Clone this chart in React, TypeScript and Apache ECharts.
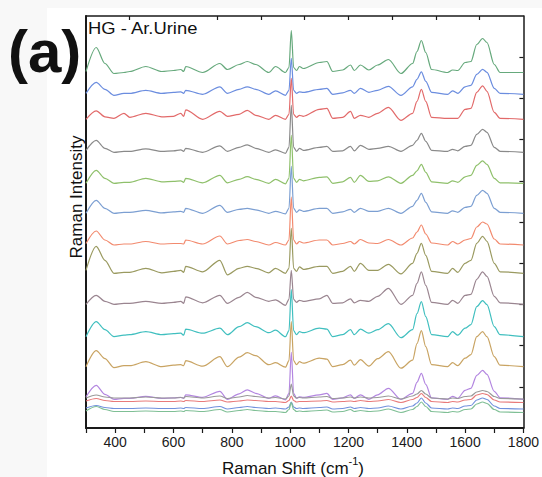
import React, { useEffect, useRef } from "react";
import * as echarts from "echarts";

// Raman shift positions (cm^-1) at which each spectrum was read
const shifts = [300, 335, 365, 396, 430, 450, 505, 560, 600, 625, 635, 642, 700, 759, 785, 825, 853, 882, 927, 950, 984, 996, 1004, 1012, 1022, 1032, 1045, 1100, 1126, 1146, 1180, 1207, 1220, 1241, 1270, 1300, 1337, 1380, 1420, 1435, 1450, 1465, 1485, 1540, 1557, 1575, 1600, 1620, 1640, 1660, 1675, 1700, 1720, 1800];

// vertical display offsets of the stacked spectra (a.u.)
const offsets = [355.5, 333.7, 308.7, 275.7, 244.7, 214.7, 183, 154.7, 123.7, 91.3, 61.3, 28.7, 29, 25.5, 19, 15.5];

const colors = ["#66a97c", "#6b8ddf", "#e26a6a", "#8a8a8a", "#8fc06b", "#7c9fd2", "#f28a6e", "#9a9a60", "#9a8590", "#40bfbf", "#c9a463", "#b386e0", "#999999", "#e87a7a", "#7090dd", "#7fbf95"];

// intensities above each offset (a.u.)
const s1 = [1, 25, 9, -1, 0, 1, 6, 1, 2, 3, 1, 6, 0, 9, 3, 8, 11, 8, 0, 6, 0, 5, 42, 5, 2, 6, 4, 10, 11, 1, 2.5, 7.5, 2, 7.5, 2.5, 7.5, 13, -1, 9, 21, 32, 20, 3, 0, 2.5, 2, 10, 11, 28, 34, 30, 8, 0, 0];
const s2 = [1, 12, 5, -1, 1, 1, 4, 1, 2, 2.5, 1, 4, 0, 7.5, 1, 5, 7.5, 5, 0, 3.5, -1, 4, 36, 4, 1, 2.5, 2, 5, 6, 0, 1.5, 4, 1, 6, 2, 4, 8, -1, 7.5, 15, 22.5, 13, 2, 0, 3.5, 1, 7.5, 9, 20, 25, 22, 6, 1, 0];
const s3 = [0, 8.5, 2.5, 1, 6, 2, 6, 2.5, 3, 6, 3, 9.5, 0, 8, 3, 5, 9, 4, 0, 4, 0, 5, 41, 5, 2, 4, 3, 10, 11, 1, 2, 8, 1, 4, 2, 6, 12, -1, 6, 18, 30, 18, 2, 1, 1, 1, 10, 11, 27, 33.5, 28, 7, 1, 0];
const s4 = [2, 12, 4, 0, 1, 1, 3.5, 1, 1.5, 2.5, 1, 4, 0, 6.5, 1, 5, 7.5, 4, 0, 2.5, -1, 5, 47, 5, 1, 4, 2, 5, 6, 1, 1.5, 6, 1.5, 7, 3, 4, 6, 1, 7, 12, 19, 11, 2, 1, 3, 1.5, 6, 7, 18, 23, 20, 5, 1, 0];
const s5 = [0, 13, 5, 0, 1, 1, 5, 1.5, 2, 2.5, 1, 5, 0.5, 8, 0.5, 4, 6.7, 4, 0, 4, -0.5, 5, 48, 5, 1, 4, 2.5, 6, 6.5, 0, 1.5, 6, 1, 8, 2, 2.5, 6.5, 0, 8, 12.5, 19, 11, 1.5, 0, 2.5, 1, 6.5, 8, 18, 22.5, 19, 5, 0.5, 0];
const s6 = [0, 13, 5, 0, 1, 1, 3, 0.5, 1.5, 2, 1, 5, 0, 8, 1, 4, 5, 3.5, 0, 2, -0.5, 5, 47, 5, 1, 3.5, 2, 5, 5, 0, 1.5, 4, 1, 5, 2, 2, 5, 0, 7, 13, 20, 11, 1.5, 0, 2.5, 1, 6, 7, 18, 23, 20, 5, 1, 0];
const s7 = [1.5, 14, 5, 0, 1, 1, 3.5, 1, 1.5, 1.5, 1, 5, 1, 9, 1, 4.5, 5.5, 3.5, 0, 2.5, 0, 5, 48, 5, 1, 3.5, 2, 5, 5, 0, 1.5, 3.5, 1, 5.5, 2, 1.5, 5.5, 0, 7, 13, 20, 11, 2, 0, 3.5, 1, 5, 6.5, 18, 23, 21, 6, 1, 0];
const s8 = [3, 27, 13, 0, 1, 1, 5, 0.5, 2, 3, 1, 7, 1.5, 13, -1.5, 5, 7, 5, 0.5, 5, 0, 5, 45, 5, 2, 6.5, 4, 7, 7, 0, 2, 7, 2, 10, 3, 3, 9, -0.5, 10, 20, 30, 18, 2, 0, 5, 1, 10, 13, 30, 37, 32, 10, 1.5, 0];
const s9 = [0, 9, 3, 0, 1, 1, 3, 1, 2, 3, 1, 7.5, 1.5, 9, 1, 7, 12, 7, 3, 4.5, -1, 5, 34, 5, 2, 4, 3, 5.5, 9, 1, 1.5, 5.5, 1.5, 4, 3, 8, 16, 0, 9, 21, 32.5, 19, 2, 0, 4, 1, 9, 10, 25, 32.5, 28, 8, 1.5, 0];
const s10 = [0, 15, 7, 0, 1.5, 2, 5, 2, 3, 3.5, 1.5, 7.5, 3.5, 8.5, 2, 10, 14, 10, 4, 6.5, 0, 6, 47, 6, 2, 5, 4, 8.5, 7.5, 0, 2, 7, 2, 7.5, 3.5, 7, 13, -1, 7, 23, 35, 20, 2, 0, 5, 1.5, 8.5, 12, 30, 36, 32, 10, 2, 0];
const s11 = [0, 16, 8, -1, 1, 1, 5, 0, 1.5, 2, 1, 6, 0.5, 10, 0, 9.5, 14, 11, 2, 4, -0.5, 6, 45, 6, 2, 5, 3.5, 8.5, 7.5, 0, 2, 6.5, 1.5, 7, 0.5, 8, 15, -1.5, 6.5, 23, 36, 20, 2, 0, 4, 1, 8.5, 12, 30, 35, 30, 10, 1.5, 0];
const s12 = [2.5, 14, 5, 0, 1, 1, 3, 1, 1.5, 2, 1, 4.5, 2, 8, 0, 5.5, 9.5, 6, 1, 3.5, -0.5, 6, 47, 6, 1, 2.5, 2, 4.5, 6, 0, 1.5, 4.5, 1, 4.5, 0, 4.5, 11, 0, 6, 17, 26, 15, 1.5, 0, 3, 1, 9, 11, 24, 29, 25, 8, 1.5, 0];
const s13 = [1, 4, 2, 1, 1, 1, 2, 1, 1, 1.5, 1, 2.5, 1, 3, 0.5, 2, 3.5, 2.5, 1, 1.5, 0, 3, 15, 3, 1, 1.5, 1, 2, 2.5, 0.5, 1, 2, 1, 2, 1, 1.5, 3, 0, 3, 5, 8.5, 5, 1, 0, 1, 0.5, 2.5, 3, 7, 8.5, 7.5, 2.5, 0.5, 0];
const s14 = [1.5, 4, 2, 1, 1, 1, 1.5, 1, 1, 1.5, 1, 2, 1, 2.5, 0.5, 1.5, 2.5, 2, 1, 1, 0, 2, 6.5, 2, 0.5, 1, 1, 1.5, 2, 0.5, 1, 1.5, 1, 2, 1, 1.5, 3, 0, 3, 5, 9, 5, 1, 0, 1, 0.5, 2.5, 3, 7.5, 9, 8, 2.5, 0.5, 0];
const s15 = [1, 3.5, 1.5, 0.5, 0.5, 0.5, 1, 0.5, 0.5, 1, 0.5, 1.5, 0.5, 2.5, 0, 1.5, 2.5, 1.5, 0.5, 1, 0, 2, 7, 2, 0.5, 1, 0.5, 1.5, 2, 0, 0.5, 2, 0.5, 1.5, 0.5, 1, 3, 0, 3, 6, 11, 6, 1, 0, 1, 0.5, 3, 3.5, 9, 11, 9.5, 3, 0.5, 0];
const s16 = [1.5, 6, 3, 1, 1, 1, 1.5, 1, 1, 1.5, 1, 2, 1, 3, 0.5, 2, 3, 2, 1, 1, 0, 3, 10, 3, 1, 1.5, 1, 2, 2.5, 0.5, 1, 3, 1, 2, 1, 1.5, 3.5, 0, 3, 6, 10.5, 6, 1, 0, 1, 0.5, 3, 3.5, 8.5, 10.5, 9, 3, 0.5, 0];

const spectra = [s1, s2, s3, s4, s5, s6, s7, s8, s9, s10, s11, s12, s13, s14, s15, s16];

const xMin = 300;
const xMax = 1800;
const bottomTicks = [300, 400, 500, 600, 700, 800, 900, 1000, 1100, 1200, 1300, 1400, 1500, 1600, 1700, 1800];
const bottomLabels = [400, 600, 800, 1000, 1200, 1400, 1600, 1800];
const topTicks = [450, 750, 900, 1050, 1200, 1350, 1500, 1650];
const yMax = 412;
const rightTicks = [41.2, 82.4, 123.6, 164.8, 206, 247.2, 288.4, 329.6, 370.8];

const FONT = "'Liberation Sans', Arial, Helvetica, sans-serif";

export default function App() {
  const ref = useRef<HTMLDivElement>(null);

  useEffect(() => {
    if (!ref.current) return;
    const chart = echarts.init(ref.current, null, { renderer: "svg" });

    const series = spectra.map((h, k) => ({
      type: "line" as const,
      name: "Spectrum " + (k + 1),
      data: shifts.map((s, i) => [s, offsets[k] + h[i]]),
      showSymbol: false,
      symbol: "none",
      smooth: 0.3,
      smoothMonotone: "x",
      clip: true,
      lineStyle: { color: colors[k], width: 1.2 },
      itemStyle: { color: colors[k] },
      emphasis: { disabled: true },
      z: 3,
    }));

    chart.setOption({
      animation: false,
      backgroundColor: "#f8f8f8",
      grid: { left: 86, right: 18, top: 16, bottom: 49, containLabel: false },
      xAxis: [
        {
          type: "value",
          position: "bottom",
          min: xMin,
          max: xMax,
          interval: 100,
          axisLine: { show: true, onZero: false, lineStyle: { color: "#1a1a1a", width: 2 } },
          axisTick: { show: true, inside: false, length: 5, customValues: bottomTicks, lineStyle: { color: "#1a1a1a", width: 1.2 } },
          axisLabel: {
            show: true,
            customValues: bottomLabels,
            formatter: (v: number) => String(v),
            margin: 7,
            color: "#1a1a1a",
            fontSize: 14,
            fontFamily: FONT,
          },
          splitLine: { show: false },
        },
        {
          type: "value",
          position: "top",
          min: xMin,
          max: xMax,
          interval: 150,
          axisLine: { show: true, onZero: false, lineStyle: { color: "#1a1a1a", width: 1.5 } },
          axisTick: { show: true, inside: true, length: 4, customValues: topTicks, lineStyle: { color: "#1a1a1a", width: 1.2 } },
          axisLabel: { show: false },
          splitLine: { show: false },
        },
      ],
      yAxis: [
        {
          type: "value",
          position: "left",
          min: 0,
          max: yMax,
          axisLine: { show: true, onZero: false, lineStyle: { color: "#1a1a1a", width: 2 } },
          axisTick: { show: false },
          axisLabel: { show: false },
          splitLine: { show: false },
        },
        {
          type: "value",
          position: "right",
          min: 0,
          max: yMax,
          axisLine: { show: true, onZero: false, lineStyle: { color: "#1a1a1a", width: 1.5 } },
          axisTick: { show: true, inside: true, length: 4, customValues: rightTicks, lineStyle: { color: "#1a1a1a", width: 1.2 } },
          axisLabel: { show: false },
          splitLine: { show: false },
        },
      ],
      series,
      graphic: [
        {
          type: "rect",
          z: -10,
          silent: true,
          shape: { x: 47, y: 8, width: 495, height: 469 },
          style: { fill: "#ffffff" },
        },
        {
          type: "text",
          x: 8,
          y: 51,
          z: 10,
          style: {
            text: "(a)",
            fontSize: 60,
            fontWeight: "bold",
            fontFamily: FONT,
            fill: "#111111",
            align: "left",
            verticalAlign: "middle",
          },
        },
        {
          type: "text",
          x: 88,
          y: 20,
          z: 10,
          scaleX: 1.15,
          style: {
            text: "HG - Ar.Urine",
            fontSize: 16,
            fontFamily: FONT,
            fill: "#111111",
            align: "left",
            verticalAlign: "top",
          },
        },
        {
          type: "text",
          x: 76,
          y: 197,
          z: 10,
          rotation: Math.PI / 2,
          style: {
            text: "Raman Intensity",
            fontSize: 17,
            fontFamily: FONT,
            fill: "#111111",
            align: "center",
            verticalAlign: "middle",
          },
        },
        {
          type: "text",
          x: 293,
          y: 466,
          z: 10,
          style: {
            text: "{n|Raman Shift (cm}{s|-1}{n|)}",
            fontFamily: FONT,
            fill: "#111111",
            align: "center",
            verticalAlign: "middle",
            rich: {
              n: { fontSize: 17, fontFamily: FONT, fill: "#111111", lineHeight: 22, verticalAlign: "bottom" },
              s: { fontSize: 11, fontFamily: FONT, fill: "#111111", lineHeight: 22, verticalAlign: "top" },
            },
          },
        },
      ],
    });

    return () => {
      chart.dispose();
    };
  }, []);

  return (
    <div
      ref={ref}
      style={{ position: "fixed", left: 0, top: 0, width: 542, height: 477 }}
    />
  );
}
